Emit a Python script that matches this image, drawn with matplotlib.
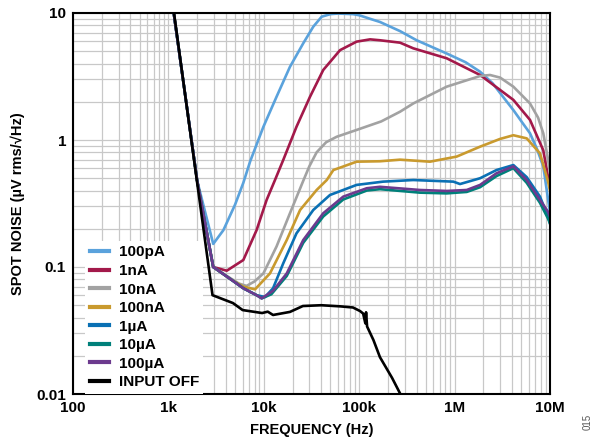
import matplotlib
matplotlib.use("Agg")
import matplotlib.pyplot as plt
from matplotlib.ticker import FixedLocator, LogLocator, NullFormatter

plt.rcParams['font.family'] = ['Liberation Sans', 'DejaVu Sans']
plt.rcParams['font.weight'] = 'bold'

# spot noise curves, frequency in Hz, noise in uV rms/rtHz
f_100pA = [1000, 2000, 2950, 3770, 5000, 6100, 7200, 9900, 13600, 18800, 25900, 33000, 40400,
           50000, 60000, 86000, 100000, 130000, 165000, 268000, 400000, 826000, 1300000, 1850000,
           2500000, 3200000, 4130000, 5200000, 6170000, 7300000, 8500000, 9550000, 10000000]
v_100pA = [20, 0.48, 0.152, 0.195, 0.31, 0.46, 0.68, 1.27, 2.19, 3.77, 5.77, 7.8, 9.35,
           9.8, 9.9, 9.8, 9.6, 9.0, 8.5, 7.2, 6.1, 4.8, 4.1, 3.45,
           2.8, 2.2, 1.72, 1.35, 1.13, 0.85, 0.62, 0.34, 0.27]

f_1nA = [1000, 2000, 2950, 4090, 6100, 8400, 10700, 13100, 16000, 22000, 30500, 42000, 63000,
         94000, 130000, 165000, 268000, 369000, 826000, 1850000, 4130000, 6170000, 8500000,
         9550000, 10000000]
v_1nA = [20, 0.48, 0.1, 0.0935, 0.1135, 0.195, 0.337, 0.484, 0.697, 1.27, 2.19, 3.56, 5.1,
         5.95, 6.2, 6.1, 5.84, 5.27, 4.4, 3.25, 2.07, 1.44, 0.83, 0.51, 0.42]

f_10nA = [1000, 2000, 2950, 4000, 5500, 6600, 8000, 9900, 13600, 18800, 26000, 30000, 35800,
          45000, 58000, 94000, 170000, 268000, 369000, 826000, 1850000, 2350000, 3000000,
          4130000, 6170000, 7500000, 8500000, 9550000, 10000000]
v_10nA = [20, 0.48, 0.1, 0.086, 0.074, 0.071, 0.077, 0.089, 0.145, 0.265, 0.48, 0.62, 0.80,
          0.96, 1.06, 1.2, 1.4, 1.67, 1.94, 2.63, 3.19, 3.25, 3.1, 2.63, 1.94, 1.5, 1.13, 0.70,
          0.55]

f_100nA = [1000, 2000, 2950, 4400, 6100, 8100, 11600, 17400, 24000, 35800, 45700, 53600, 94000,
           165000, 268000, 552000, 1050000, 1850000, 3000000, 4130000, 5700000, 7850000,
           9550000, 10000000]
v_100nA = [20, 0.48, 0.1, 0.081, 0.07, 0.0667, 0.089, 0.163, 0.281, 0.404, 0.484, 0.58, 0.675,
           0.68, 0.70, 0.675, 0.74, 0.886, 1.02, 1.09, 1.03, 0.785, 0.47, 0.4]

f_1uA = [1000, 2000, 2950, 4400, 6100, 8400, 10300, 12500, 16000, 22000, 33000, 49400, 94000,
         178000, 369000, 970000, 1140000, 1850000, 2750000, 4130000, 5700000, 7850000, 9550000,
         10000000]
v_1uA = [20, 0.48, 0.1, 0.081, 0.068, 0.060, 0.058, 0.068, 0.107, 0.184, 0.281, 0.369, 0.443,
         0.47, 0.484, 0.47, 0.45, 0.50, 0.58, 0.635, 0.51, 0.358, 0.249, 0.22]

f_10uA = [1000, 2000, 2950, 4400, 6100, 8400, 9500, 12000, 17400, 25900, 42000, 68000, 120000,
          165000, 433000, 826000, 1340000, 1850000, 2750000, 4130000, 5700000, 7850000, 9550000,
          10000000]
v_10uA = [20, 0.48, 0.1, 0.081, 0.068, 0.060, 0.0566, 0.061, 0.085, 0.155, 0.25, 0.34, 0.40,
          0.41, 0.385, 0.38, 0.39, 0.425, 0.52, 0.60, 0.46, 0.32, 0.24, 0.22]

f_100uA = [1000, 2000, 2950, 4400, 6100, 8400, 9500, 12500, 17400, 25900, 42000, 68000, 120000,
           165000, 433000, 826000, 1340000, 1850000, 2750000, 4130000, 5700000, 7850000,
           9550000, 10000000]
v_100uA = [20, 0.48, 0.1, 0.081, 0.068, 0.060, 0.0566, 0.065, 0.089, 0.163, 0.265, 0.358, 0.417,
           0.428, 0.404, 0.397, 0.404, 0.443, 0.547, 0.62, 0.484, 0.337, 0.272, 0.25]

f_off = [1000, 2900, 4750, 6000, 9600, 11000, 12500, 18800, 25700, 40000, 63000, 86000, 102000,
         110000, 116000, 118000, 121000, 141000, 165000, 221000, 270000, 300000]
v_off = [21, 0.06, 0.052, 0.0458, 0.0434, 0.0445, 0.0419, 0.0443, 0.0493, 0.050, 0.049, 0.048,
         0.045, 0.043, 0.036, 0.044, 0.034, 0.0266, 0.0195, 0.0134, 0.01, 0.0088]

labels = ["100pA", "1nA", "10nA", "100nA", "1µA", "10µA", "100µA", "INPUT OFF"]
colors = ["#5AA2DC", "#A3194A", "#A2A2A2", "#C99A2E", "#0A70B4", "#00807A", "#6C3A8E", "#000000"]
x_ticks = [100, 1e3, 1e4, 1e5, 1e6, 1e7]
x_ticklabels = ["100", "1k", "10k", "100k", "1M", "10M"]
y_ticks = [0.01, 0.1, 1, 10]
y_ticklabels = ["0.01", "0.1", "1", "10"]

series = [(f_100pA, v_100pA), (f_1nA, v_1nA), (f_10nA, v_10nA), (f_100nA, v_100nA),
          (f_1uA, v_1uA), (f_10uA, v_10uA), (f_100uA, v_100uA), (f_off, v_off)]

fig = plt.figure(figsize=(5.97, 4.46), dpi=100)
ax = fig.add_axes([73 / 597, 1 - 394 / 446, 477 / 597, 381 / 446])

for (f, v), lab, c in zip(series, labels, colors):
    ax.plot(f, v, color=c, lw=1.9, label=lab, solid_joinstyle='round')

ax.set_xscale('log')
ax.set_yscale('log')
ax.set_xlim(100, 1e7)
ax.set_ylim(0.01, 10)

ax.xaxis.set_major_locator(FixedLocator(x_ticks))
ax.set_xticklabels(x_ticklabels)
ax.yaxis.set_major_locator(FixedLocator(y_ticks))
ax.set_yticklabels(y_ticklabels)
ax.xaxis.set_minor_locator(LogLocator(base=10, subs=range(2, 10), numticks=20))
ax.yaxis.set_minor_locator(LogLocator(base=10, subs=range(2, 10), numticks=20))
ax.xaxis.set_minor_formatter(NullFormatter())
ax.yaxis.set_minor_formatter(NullFormatter())
ax.tick_params(which='both', length=0, labelsize=11, pad=5)
ax.grid(which='both', color='#C8C8C8', lw=0.9)
ax.set_axisbelow(True)
for s in ax.spines.values():
    s.set_linewidth(1.5)

ax.set_xlabel("FREQUENCY (Hz)", fontsize=10.5, fontweight='bold', labelpad=6)
ax.set_ylabel("SPOT NOISE (µV rms/√Hz)", fontsize=10.5, fontweight='bold', labelpad=8)

leg = ax.legend(loc='lower left', bbox_to_anchor=(0.025, 0.0), borderaxespad=0, borderpad=0.3,
                fontsize=11, frameon=True, framealpha=1, facecolor='white', edgecolor='none',
                fancybox=False, handlelength=1.3, handletextpad=0.6, labelspacing=0.3)
for line in leg.get_lines():
    line.set_linewidth(3)

fig.text(0.985, 0.035, "015", rotation=90, fontsize=7, color='#555555', fontweight='normal',
         ha='center', va='bottom')

fig.savefig("out.png", dpi=100)
